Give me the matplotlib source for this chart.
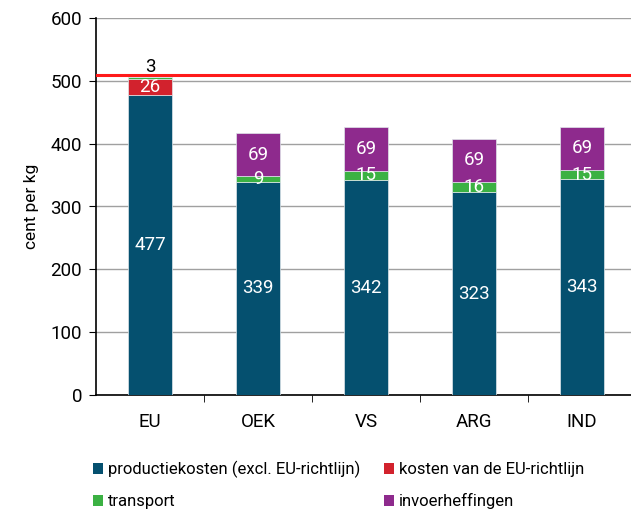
import matplotlib
matplotlib.use("Agg")
import matplotlib.pyplot as plt
from matplotlib.ticker import FixedLocator
from matplotlib.patches import Patch

plt.rcParams['font.family'] = ['Liberation Sans Narrow', 'Roboto', 'DejaVu Sans']

categories = ["EU", "OEK", "VS", "ARG", "IND"]
productie = [477, 339, 342, 323, 343]
eu_kosten = [26, 0, 0, 0, 0]
transport = [3, 9, 15, 16, 15]
invoer = [0, 69, 69, 69, 69]
eu_lijn = 509

series_names = ["productiekosten (excl. EU-richtlijn)", "kosten van de EU-richtlijn",
                "transport", "invoerheffingen"]
colors = ["#05506F", "#D2222D", "#3BB143", "#8E2A8D"]

fig = plt.figure(figsize=(6.31, 5.13), dpi=100)
ax = fig.add_axes([96/631, (513-395)/513, 540/631, 377/513])

x = list(range(len(categories)))
w = 0.41
bottom = [0]*len(categories)
for vals, col in zip([productie, eu_kosten, transport, invoer], colors):
    ax.bar(x, vals, w, bottom=bottom, color=col, edgecolor="#dfe6ea", linewidth=0.5, zorder=3)
    for i, v in enumerate(vals):
        if v <= 0:
            continue
        if v < 5:
            ax.text(i, bottom[i] + v + 1, str(v), ha="center", va="bottom",
                    color="black", fontsize=13.5, zorder=5)
        else:
            ax.text(i, bottom[i] + v/2, str(v), ha="center", va="center",
                    color="white", fontsize=13.5, zorder=5)
    bottom = [b + v for b, v in zip(bottom, vals)]

ax.axhline(eu_lijn, color="#FF1A1A", lw=2.2, zorder=4)

ax.set_ylim(0, 600)
ax.set_xlim(-0.5, 4.5)
ax.set_yticks(range(0, 601, 100))
ax.yaxis.grid(True, color="#a0a0a0", lw=1.0, zorder=0)
ax.set_axisbelow(True)
ax.set_xticks(x)
ax.set_xticklabels(categories, fontsize=13.5)
ax.tick_params(axis="x", which="major", length=0, pad=13)
ax.xaxis.set_minor_locator(FixedLocator([0.5, 1.5, 2.5, 3.5]))
ax.tick_params(axis="x", which="minor", length=5, direction="out", color="black")
ax.tick_params(axis="y", length=5, direction="out", labelsize=13.5, color="black", pad=5)
for s in ["top", "right"]:
    ax.spines[s].set_visible(False)
ax.spines["left"].set_linewidth(1.2)
ax.spines["bottom"].set_linewidth(1.2)
ax.set_ylabel("cent per kg", fontsize=12.5, labelpad=8)

handles = [Patch(facecolor=c, edgecolor="none") for c in colors]
order = [0, 2, 1, 3]
fig.legend([handles[i] for i in order], [series_names[i] for i in order],
           ncol=2, loc="upper left", bbox_to_anchor=(78/631, 1-446/513),
           frameon=False, fontsize=12, handlelength=0.6, handleheight=0.6,
           handletextpad=0.3, columnspacing=1.4, labelspacing=0.95)

fig.savefig("out.png", dpi=100)
